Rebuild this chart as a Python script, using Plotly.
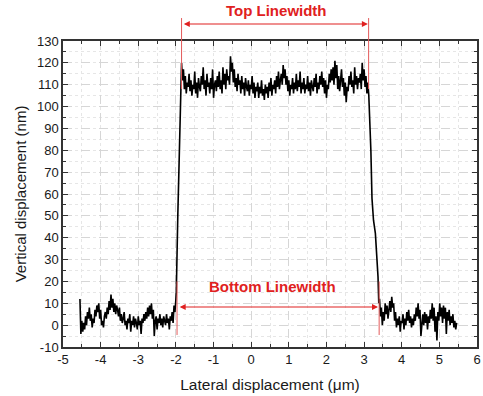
import numpy as np
import plotly.graph_objects as go

# ---- data ----
left_x0, left_dx = -4.55, 0.025
left_y = [12, -4, 2, -3, 1, -2, 4, 0, 6, 3,
          8, 2, 5, -1, 3, 1, 7, 4, 9, 6,
          10, 3, 7, 0, 2, -1, 4, 6, 3, 8,
          5, 11, 7, 14, 8, 12, 6, 10, 5, 9,
          7, 4, 8, 2, 5, 1, 3, 6, 0, 2,
          -2, 3, 1, 5, -3, 2, 0, 4, -1, 3,
          1, -2, 4, 0, 2, -4, 3, 1, 5, 2,
          6, 3, 8, 4, 9, 5, 10, 3, 7, -5,
          2, 4, -2, 3, 1, 5, 0, 3, -1, 4,
          2, 0, 5, 1, 3, -2, 4, 2, 6, 1,
          9, 6, 12]

rise_x = [-1.99, -1.95, -1.91, -1.87]
rise_y = [15, 50, 85, 110]

top_x0, top_dx = -1.85, 0.025
top_y = [120, 112, 117, 108, 114, 106, 111, 109, 115, 107,
         112, 105, 110, 108, 116, 106, 111, 104, 113, 109,
         107, 114, 110, 118, 108, 112, 105, 115, 109, 111,
         106, 113, 108, 117, 104, 110, 112, 107, 114, 109,
         116, 108, 112, 106, 118, 110, 115, 108, 117, 112,
         114, 110, 123, 116, 120, 111, 117, 109, 113, 107,
         115, 110, 112, 106, 114, 108, 111, 105, 113, 109,
         107, 112, 105, 110, 108, 114, 106, 111, 104, 109,
         107, 111, 104, 109, 106, 112, 105, 108, 103, 110,
         106, 109, 104, 111, 107, 113, 105, 110, 108, 112,
         106, 114, 109, 116, 108, 112, 115, 110, 119, 113,
         117, 110, 114, 107, 112, 105, 110, 108, 113, 106,
         111, 108, 115, 107, 112, 109, 116, 106, 111, 108,
         113, 106, 110, 108, 114, 107, 111, 105, 112, 109,
         107, 113, 109, 115, 106, 111, 108, 114, 110, 116,
         109, 113, 106, 112, 104, 110, 108, 115, 111, 117,
         112, 118, 110, 121, 113, 119, 108, 114, 107, 112,
         117, 109, 113, 105, 111, 102, 109, 107, 114, 110,
         116, 109, 112, 106, 118, 110, 114, 108, 113, 111,
         115, 108, 120, 112, 117, 109, 114, 106, 111, 105]

fall_x = [3.15, 3.18, 3.21, 3.25, 3.30, 3.34, 3.37, 3.39]
fall_y = [95, 80, 58, 48, 42, 33, 22, 10]

right_x0, right_dx = 3.41, 0.025
right_y = [12, 4, 8, 0, 6, 2, 10, 5, 9, 3,
           7, 11, 6, 13, 8, 10, 2, 6, -1, 3,
           0, 4, -3, 2, 1, 5, -2, 3, 0, 6,
           2, 7, 1, 4, -1, 3, 0, 5, 2, 8,
           4, 10, 3, 7, -5, 2, 5, 0, 6, 1,
           5, -2, 4, 1, 7, 3, 10, 2, 8, -3,
           4, -7, 6, 2, 10, 4, 8, 1, 9, 3,
           8, -4, 6, 2, 7, 0, 4, 1, 5, -1,
           2, -2, 1]

top_lw = [-1.85, 3.12]       # top linewidth edges (um)
bottom_lw = [-1.97, 3.40]    # bottom linewidth edges (um)
top_label = "Top Linewidth"
bottom_label = "Bottom Linewidth"

x_ticks = list(range(-5, 7))
x_ticktext = [str(v) for v in x_ticks]
y_ticks = list(range(-10, 131, 10))
y_ticktext = [str(v) for v in y_ticks]

# ---- build trace ----
lx = left_x0 + left_dx * np.arange(len(left_y))
tx = top_x0 + top_dx * np.arange(len(top_y))
rx = right_x0 + right_dx * np.arange(len(right_y))
xs = np.concatenate([lx, rise_x, tx, fall_x, rx])
ys = np.concatenate([left_y, rise_y, top_y, fall_y, right_y])

RED = "#e02020"
RED_LINE = "#e35a5a"
FONT = "Liberation Sans, Arial, sans-serif"
AX = "#333333"

fig = go.Figure()
fig.add_trace(go.Scatter(x=xs, y=ys, mode="lines",
                         line=dict(color="black", width=1.6), showlegend=False,
                         hoverinfo="skip"))
# invisible trace to activate the mirror axes (top / right ticks)
fig.add_trace(go.Scatter(x=[-5], y=[-10], xaxis="x2", yaxis="y2", mode="markers",
                         marker=dict(opacity=0), showlegend=False, hoverinfo="skip"))

shapes = []
for xv in top_lw:
    shapes.append(dict(type="line", xref="x", yref="paper", x0=xv, x1=xv,
                       y0=(108 + 10) / 140, y1=1.075,
                       line=dict(color=RED_LINE, width=1)))
for xv in bottom_lw:
    shapes.append(dict(type="line", xref="x", yref="y", x0=xv, x1=xv,
                       y0=-4.5, y1=20, line=dict(color=RED_LINE, width=1)))

annotations = [
    dict(x=top_lw[1] - 0.02, y=1.0556, xref="x", yref="paper",
         ax=top_lw[0] + 0.02, ay=0, axref="x", ayref="pixel",
         showarrow=True, arrowside="end+start", arrowhead=2, arrowsize=1,
         arrowwidth=1.2, arrowcolor=RED, text=""),
    dict(x=0.66, y=1.134, xref="x", yref="paper", text="<b>" + top_label + "</b>",
         showarrow=False, font=dict(color=RED, size=15, family=FONT)),
    dict(x=bottom_lw[1] - 0.03, y=8.3, xref="x", yref="y",
         ax=bottom_lw[0] + 0.03, ay=8.3, axref="x", ayref="y",
         showarrow=True, arrowside="end+start", arrowhead=2, arrowsize=1,
         arrowwidth=1.2, arrowcolor=RED, text=""),
    dict(x=0.57, y=17.5, xref="x", yref="y", text="<b>" + bottom_label + "</b>",
         showarrow=False, font=dict(color=RED, size=15, family=FONT)),
]

common = dict(ticks="inside", ticklen=5, tickwidth=1.2, tickcolor=AX,
              showline=True, linecolor=AX, linewidth=1.5, zeroline=False,
              automargin=False)

fig.update_layout(
    width=483, height=396,
    margin=dict(l=63, r=6, t=41, b=49),
    paper_bgcolor="white", plot_bgcolor="white",
    font=dict(family=FONT, color="#1a1a1a", size=13),
    shapes=shapes, annotations=annotations,
    xaxis=dict(range=[-5, 6], tickvals=x_ticks, ticktext=x_ticktext,
               title=dict(text="Lateral displacement (\u03bcm)", font=dict(size=15.5),
                          standoff=13),
               showgrid=True, gridcolor="#d6d6d6", griddash="dash", gridwidth=1,
               minor=dict(dtick=0.5, ticks="inside", ticklen=3, tickcolor=AX,
                          showgrid=True, gridcolor="#e6e6e6", griddash="dot"),
               **common),
    yaxis=dict(range=[-10, 130], tickvals=y_ticks, ticktext=y_ticktext,
               title=dict(text="Vertical displacement (nm)", font=dict(size=15),
                          standoff=7),
               showgrid=True, gridcolor="#d6d6d6", griddash="dash", gridwidth=1,
               minor=dict(dtick=5, ticks="inside", ticklen=3, tickcolor=AX,
                          showgrid=True, gridcolor="#e6e6e6", griddash="dot"),
               **common),
    xaxis2=dict(range=[-5, 6], overlaying="x", side="top", tickvals=x_ticks,
                showticklabels=False, showgrid=False,
                minor=dict(dtick=0.5, ticks="inside", ticklen=3, tickcolor=AX),
                **common),
    yaxis2=dict(range=[-10, 130], overlaying="y", side="right", tickvals=y_ticks,
                showticklabels=False, showgrid=False,
                minor=dict(dtick=5, ticks="inside", ticklen=3, tickcolor=AX),
                **common),
)

fig.write_html("out.html", config={"displayModeBar": False},
               post_script="document.body.style.margin='0';")
